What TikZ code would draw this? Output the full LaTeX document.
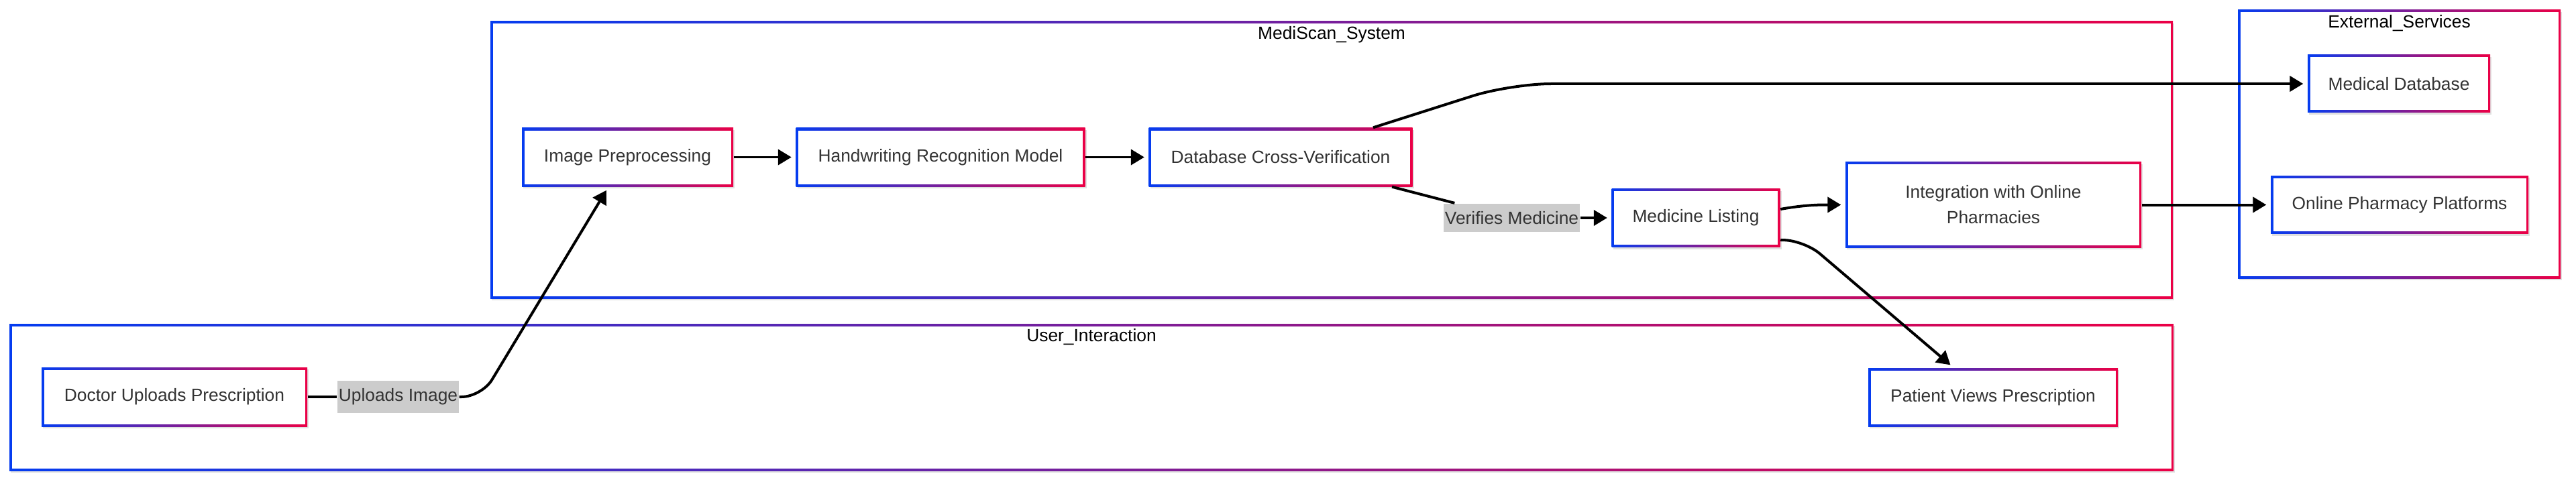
\documentclass[tikz,border=0pt]{standalone}
\usepackage{fontspec}
\setmainfont{Liberation Sans}
\usetikzlibrary{arrows.meta,shadows}
\definecolor{gblue}{RGB}{5,60,240}
\definecolor{gred}{RGB}{235,0,70}
\definecolor{txtgray}{RGB}{51,51,51}
\definecolor{lblgray}{RGB}{204,204,204}

\begin{document}
\begin{tikzpicture}
    \tikzset{gradframe/.style={rectangle, inner sep=0pt,
            drop shadow={shadow xshift=0.02cm, shadow yshift=-0.03cm,
                fill=black, opacity=0.12},
            path picture={
                \shade[left color=gblue, right color=gred]
                    (path picture bounding box.south west) rectangle
                    (path picture bounding box.north east);
                \fill[white]
                    ([shift={(0.035cm,0.035cm)}]path picture bounding box.south west) rectangle
                    ([shift={(-0.035cm,-0.035cm)}]path picture bounding box.north east);}},
        procbox/.style={gradframe, minimum height=0.87cm, align=center,
            text=txtgray, font=\fontsize{7.5pt}{10.8pt}\selectfont},
        grouptitle/.style={anchor=center, yshift=-0.2cm, inner sep=0pt,
            text=black, font=\fontsize{7.5pt}{9pt}\selectfont},
        edgelbl/.style={fill=lblgray, text=txtgray, inner xsep=0.5pt,
            minimum height=0.39cm, font=\fontsize{7.5pt}{9pt}\selectfont},
        flow/.style={line width=0.04cm, black},
        arr/.style={flow, shorten >=0.06cm,
            -{Triangle[length=0.2cm, width=0.23cm]}}}
    \useasboundingbox (0,0) rectangle (38.4,-7.19);
    % subgraphs
    \node[gradframe, minimum width=25.08cm, minimum height=4.13cm,
        label={[grouptitle]north:MediScan\_System}] (sysbox) at (19.85,-2.385) {};
    \node[gradframe, minimum width=4.81cm, minimum height=4cm,
        label={[grouptitle]north:External\_Services}] (extbox) at (35.765,-2.15) {};
    \node[gradframe, minimum width=32.26cm, minimum height=2.19cm,
        label={[grouptitle]north:User\_Interaction}] (userbox) at (16.27,-5.925) {};
    % steps
    \node[procbox, minimum width=3.15cm] (imgpre) at (9.355,-2.345) {Image Preprocessing};
    \node[procbox, minimum width=4.31cm] (hwr) at (14.02,-2.345) {Handwriting Recognition Model};
    \node[procbox, minimum width=3.93cm] (dbcheck) at (19.09,-2.345) {Database Cross-Verification};
    \node[procbox, minimum width=2.51cm] (medlist) at (25.28,-3.25) {Medicine Listing};
    \node[procbox, minimum width=4.41cm, minimum height=1.27cm] (integ) at (29.715,-3.055)
        {Integration with Online\\Pharmacies};
    \node[procbox, minimum width=2.72cm, minimum height=0.86cm] (meddb) at (35.76,-1.25) {Medical Database};
    \node[procbox, minimum width=3.84cm, minimum height=0.86cm] (pharm) at (35.77,-3.055) {Online Pharmacy Platforms};
    \node[procbox, minimum width=3.96cm, minimum height=0.88cm] (doctor) at (2.6,-5.92) {Doctor Uploads Prescription};
    \node[procbox, minimum width=3.72cm] (patient) at (29.71,-5.925) {Patient Views Prescription};
    % edge labels
    \node[edgelbl] (uplbl) at (5.935,-5.92) {Uploads Image};
    \node[edgelbl] (verlbl) at (22.535,-3.25) {Verifies Medicine};
    % flows
    \draw[flow] (doctor) -- (uplbl);
    \draw[arr, rounded corners=0.3cm] (uplbl) -- (7.18,-5.92)
        -- ([xshift=-0.285cm]imgpre.south);
    \draw[arr] (imgpre) -- (hwr);
    \draw[arr] (hwr) -- (dbcheck);
    \draw[arr, rounded corners=0.6cm] ([xshift=1.38cm]dbcheck.north)
        -- (22.52,-1.25) -- (meddb);
    \draw[flow] ([xshift=1.66cm]dbcheck.south) -- (verlbl);
    \draw[arr] (verlbl) -- (medlist);
    \draw[arr] ([yshift=0.13cm]medlist.east) to[out=10, in=180] (integ.west);
    \draw[arr, rounded corners=0.3cm] ([yshift=-0.33cm]medlist.east)
        -- (26.9,-3.59) -- ([xshift=-0.59cm]patient.north);
    \draw[arr] (integ) -- (pharm);
\end{tikzpicture}
\end{document}
